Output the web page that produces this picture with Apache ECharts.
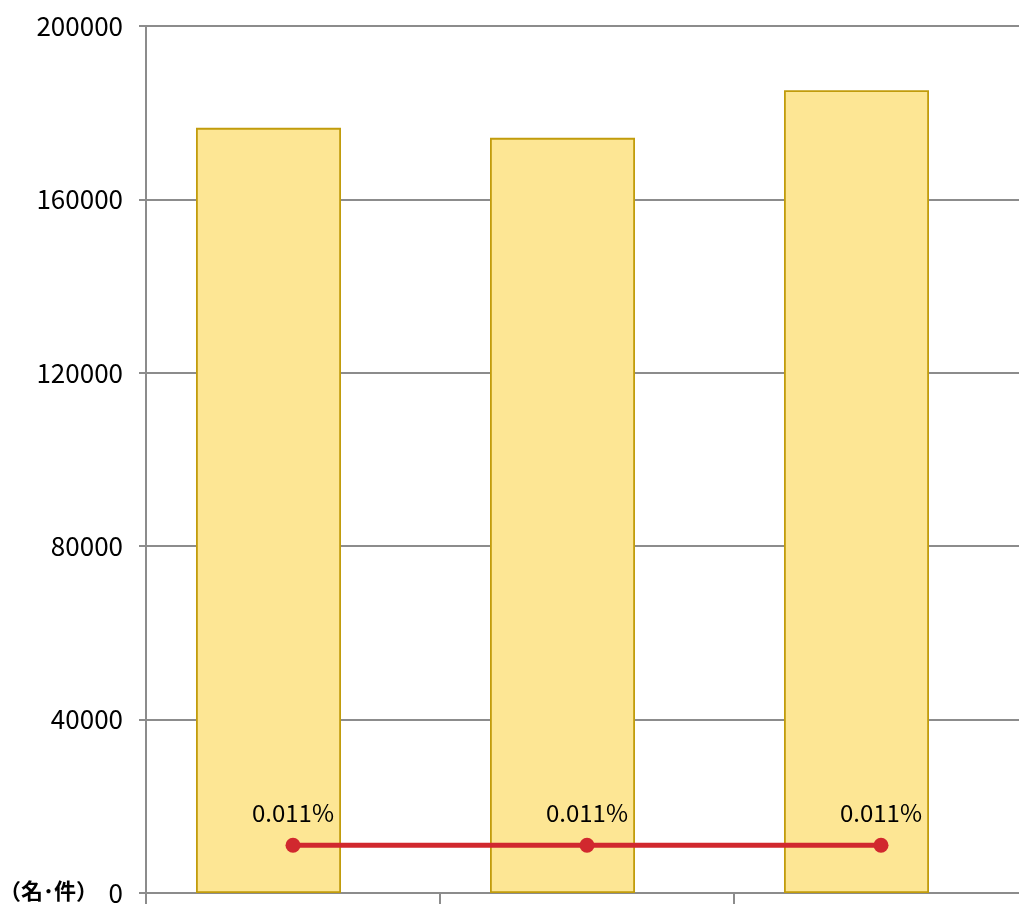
<!DOCTYPE html>
<html><head><meta charset="utf-8">
<script src="https://cdn.jsdelivr.net/npm/echarts@6/dist/echarts.min.js"></script>
<style>html,body{margin:0;padding:0;background:#fff;overflow:hidden}#c{width:1030px;height:904px}</style>
</head><body><div id="c"></div>
<script>
const categories = ['令和元年度', '令和2年度', '令和3年度'];
const counts = [176500, 174200, 185200];
const rates = [0.011, 0.011, 0.011];
const placeholder = [null, null, null];
const yTicks = [0, 40000, 80000, 120000, 160000, 200000];

const numFont = '"Noto Sans CJK JP", sans-serif';
const chart = echarts.init(document.getElementById('c'), null, {renderer: 'canvas'});
chart.setOption({
  animation: false,
  grid: {left: 146, top: 26, width: 882, height: 867, containLabel: false, outerBoundsMode: 'none'},
  xAxis: {
    type: 'category', data: categories,
    axisLine: {lineStyle: {color: '#8c8c8c', width: 2}},
    axisTick: {show: true, length: 14, lineStyle: {color: '#8c8c8c', width: 2}},
    axisLabel: {show: false}
  },
  yAxis: [{
    type: 'value', min: yTicks[0], max: yTicks[yTicks.length - 1], interval: 40000,
    axisLine: {show: true, lineStyle: {color: '#8c8c8c', width: 2}},
    axisTick: {show: true, inside: false, length: 7, lineStyle: {color: '#8c8c8c', width: 2}},
    splitLine: {lineStyle: {color: '#8c8c8c', width: 2}},
    axisLabel: {margin: 23, color: '#000', fontSize: 26, fontFamily: numFont, formatter: v => String(v)}
  }, {
    type: 'value', min: 0, max: 0.2, show: false, splitLine: {show: false}
  }],
  series: [{
    type: 'bar', data: counts, barWidth: 145, barGap: 0,
    itemStyle: {color: '#fde694', borderColor: '#c19c0c', borderWidth: 1.8}
  }, {
    type: 'bar', data: placeholder, barWidth: 49, barGap: 0
  }, {
    type: 'line', yAxisIndex: 1, data: rates,
    symbol: 'circle', symbolSize: 15,
    lineStyle: {color: '#d1282e', width: 5},
    itemStyle: {color: '#d1282e'},
    label: {show: true, position: 'top', distance: 13, color: '#000', fontSize: 24,
      fontFamily: numFont, formatter: p => p.value.toFixed(3) + '%'}
  }],
  graphic: [{
    type: 'text', left: -1, top: 880,
    style: {text: '（名･件）', fontSize: 22, fontWeight: 'bold', fill: '#000',
      fontFamily: '"Noto Sans CJK JP", sans-serif'}
  }]
});
</script></body></html>
